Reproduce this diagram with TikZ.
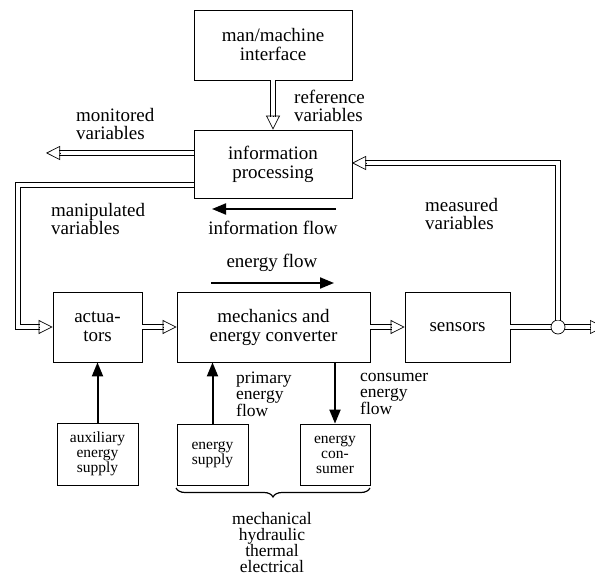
\documentclass[tikz,border=0pt]{standalone}
\usepackage{fontspec}
\setmainfont{Liberation Serif}
\usetikzlibrary{arrows.meta,decorations.pathreplacing,calc}
\begin{document}
\begin{tikzpicture}[x=1pt,y=-1pt,
 box/.style={draw, line width=0.8pt, inner sep=0pt, align=center, font=\fontsize{19}{19}\selectfont},
 sbox/.style={draw, line width=0.8pt, inner sep=0pt, align=center, font=\fontsize{15.5}{15}\selectfont},
 lbl/.style={inner sep=0pt, align=left, font=\fontsize{19}{18}\selectfont},
 slbl/.style={inner sep=0pt, align=left, font=\fontsize{17.5}{16}\selectfont},
 dbl/.style={draw, line width=0.7pt, double, double distance=4.5pt},
 ohead/.style={-{Triangle[open, length=14pt, width=14pt, line width=0.7pt]}},
 boldarrow/.style={line width=2pt, -{Triangle[length=14pt,width=11pt]}}]

\useasboundingbox (0,0) rectangle (595,577);

% boxes
\node[box, minimum width=158pt, minimum height=70pt] (mmi) at (273,45) {man/machine\\interface};
\node[box, minimum width=158pt, minimum height=68pt] (info) at (273,164) {information\\processing};
\node[box, minimum width=89pt, minimum height=70pt] (act) at (97.5,327) {actua-\\tors};
\node[box, minimum width=193pt, minimum height=70pt] (mech) at (273.5,327) {mechanics and\\energy converter};
\node[box, minimum width=105pt, minimum height=70pt] (sens) at (457.5,327) {sensors};
\node[sbox, minimum width=81pt, minimum height=62pt] (aux) at (97.5,454) {auxiliary\\energy\\supply};
\node[sbox, minimum width=71pt, minimum height=61pt] (es) at (212.5,454.5) {energy\\supply};
\node[sbox, minimum width=70pt, minimum height=61pt] (ec) at (335,454.5) {energy\\con-\\sumer};

% labels
\node[lbl, anchor=west] (reflbl) at (294,106) {reference\\variables};
\node[lbl, anchor=west] (monlbl) at (76,124) {monitored\\variables};
\node[lbl, anchor=west] (manlbl) at (51,219) {manipulated\\variables};
\node[lbl, anchor=west] (measlbl) at (425,214) {measured\\variables};
\node[lbl] (infolbl) at (273,228) {information flow};
\node[lbl] (enlbl) at (272,263) {energy flow};
\node[slbl, anchor=west] (primlbl) at (236,394) {primary\\energy\\flow};
\node[slbl, anchor=west] (conslbl) at (360,394) {consumer\\energy\\flow};
\node[slbl, align=center] (kinds) at (272,543) {mechanical\\hydraulic\\thermal\\electrical};

% flow arrows
\coordinate (if1) at (336,209);
\coordinate (if2) at (212,209);
\coordinate (ef1) at (211,283);
\coordinate (ef2) at (334,283);
\draw[boldarrow] (if1) -- (if2);
\draw[boldarrow] (ef1) -- (ef2);

% energy arrows
\draw[boldarrow] (aux.north) -- (act.south);
\draw[boldarrow] (es.north) -- (es.north |- mech.south);
\draw[boldarrow] (ec.north |- mech.south) -- (ec.north);

% double-line signal arrows
\draw[dbl, shorten >=13pt] (mmi.south) -- (info.north);
\draw[ohead] ($(info.north)+(0,-14)$) -- (info.north);

\coordinate (monend) at (46,153);
\draw[dbl, shorten >=13pt] (info.west |- monend) -- (monend);
\draw[ohead] ($(monend)+(14,0)$) -- (monend);

\coordinate (mancorner) at (18,185);
\draw[dbl, shorten >=13pt] (info.west |- mancorner) -- (mancorner) |- (act.west);
\draw[ohead] ($(act.west)+(-14,0)$) -- (act.west);

\draw[dbl, shorten >=13pt] (act.east) -- (mech.west);
\draw[ohead] ($(mech.west)+(-14,0)$) -- (mech.west);

\draw[dbl, shorten >=13pt] (mech.east) -- (sens.west);
\draw[ohead] ($(sens.west)+(-14,0)$) -- (sens.west);

\coordinate (outend) at (604,327);
\draw[dbl] (sens.east) -- (591,327);
\draw[ohead] (590,327) -- (outend);
\node[circle, draw, fill=white, minimum size=14pt, inner sep=0pt, line width=0.7pt] (j) at (558,327) {};
\coordinate (fbin) at (352,163);
\draw[dbl, shorten >=13pt] (j.north) |- (fbin);
\draw[ohead] ($(fbin)+(14,0)$) -- (fbin);

% brace
\coordinate (br1) at (176,488);
\coordinate (br2) at (370,488);
\draw[line width=1.2pt, decorate, decoration={brace, amplitude=9pt, mirror}] (br1) -- (br2);
\end{tikzpicture}
\end{document}
